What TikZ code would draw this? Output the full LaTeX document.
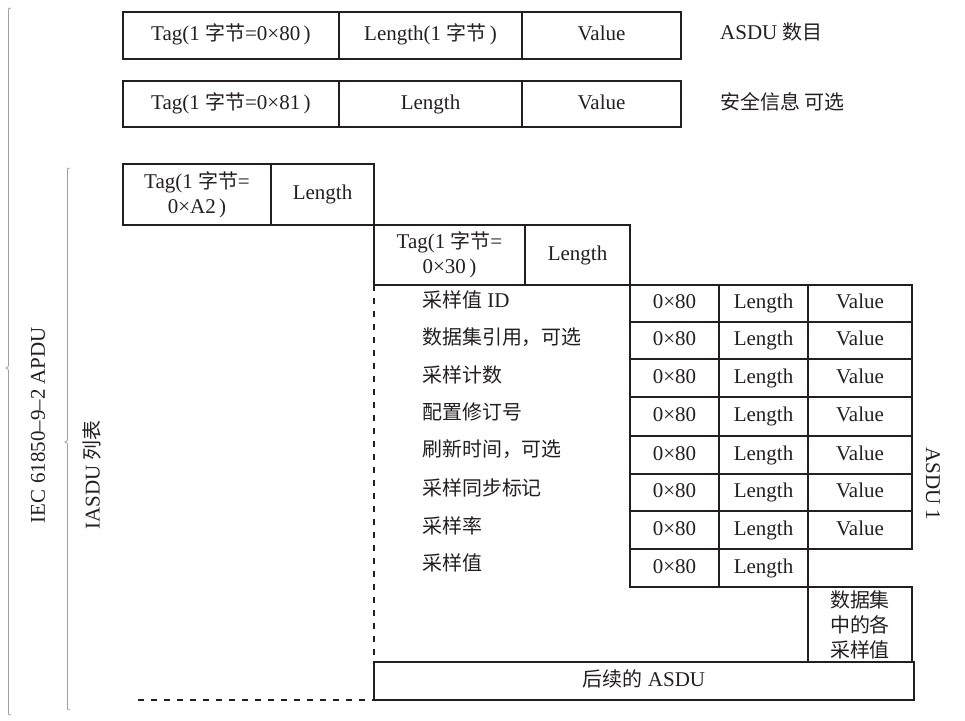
\documentclass[tikz,border=0pt]{standalone}
\usepackage{fontspec}
\setmainfont{Liberation Serif}
\newfontfamily\zhfont{Noto Sans CJK SC}[Scale=0.95]
\newcommand{\zh}[1]{{\zhfont #1}}
\definecolor{ink}{HTML}{231F20}
\definecolor{brc}{HTML}{A0A0A0}
\tikzset{
  cell/.style={draw=ink, line width=1.6pt, inner sep=0pt, outer sep=0pt, anchor=north west, text height=14pt, text depth=4pt, text=ink},
  mcell/.style={draw=ink, line width=1.6pt, inner sep=0pt, outer sep=0pt, anchor=north west, align=center, text=ink},
  lbl/.style={anchor=west, inner sep=0pt, text height=14pt, text depth=4pt, text=ink},
  bracepath/.style={draw=brc, line width=0.8pt},
  dashline/.style={draw=ink, line width=1.6pt, dash pattern=on 6pt off 7pt},
}
\begin{document}
\begin{tikzpicture}[x=1pt, y=-1pt, font=\fontsize{21}{25}\selectfont]
\useasboundingbox (0,0) rectangle (965,720);

% row 1
\node[cell, minimum width=216pt, minimum height=47pt] (t80) at (123,12) {Tag(1 \zh{字节}=0×80\,)};
\node[cell, minimum width=183pt, minimum height=47pt] (l80) at (339,12) {Length(1 \zh{字节}\,)};
\node[cell, minimum width=159pt, minimum height=47pt] (v80) at (522,12) {Value};
\node[lbl] (n80) at (720,34) {ASDU \zh{数目}};

% row 2
\node[cell, minimum width=216pt, minimum height=46pt] (t81) at (123,81) {Tag(1 \zh{字节}=0×81\,)};
\node[cell, minimum width=183pt, minimum height=46pt] (l81) at (339,81) {Length};
\node[cell, minimum width=159pt, minimum height=46pt] (v81) at (522,81) {Value};
\node[lbl] (n81) at (720,104) {\zh{安全信息 可选}};

% row 3
\node[mcell, minimum width=148pt, minimum height=61pt] (ta2) at (123,164) {Tag(1 \zh{字节}=\\0×A2\,)};
\node[cell, minimum width=103pt, minimum height=61pt] (la2) at (271,164) {Length};

% row 4
\node[mcell, minimum width=151pt, minimum height=60pt] (t30) at (374,225) {Tag(1 \zh{字节}=\\0×30\,)};
\node[cell, minimum width=105pt, minimum height=60pt] (l30) at (525,225) {Length};

% table
\foreach \i/\t/\h in {1/285/37,2/322/37,3/359/38,4/397/39,5/436/38,6/474/37,7/511/38}{
  \node[cell, minimum width=89pt, minimum height=\h pt] (h\i) at (630,\t) {0×80};
  \node[cell, minimum width=89pt, minimum height=\h pt] (g\i) at (719,\t) {Length};
  \node[cell, minimum width=104pt, minimum height=\h pt] (v\i) at (808,\t) {Value};
}
\node[cell, minimum width=89pt, minimum height=38pt] (h8) at (630,549) {0×80};
\node[cell, minimum width=89pt, minimum height=38pt] (g8) at (719,549) {Length};
\node[mcell, minimum width=104pt, minimum height=75pt] (ds) at (808,587) {\zh{数据集}\\\zh{中的各}\\\zh{采样值}};
\node[cell, minimum width=540pt, minimum height=38pt] (next) at (374,662) {\zh{后续的} ASDU};

% left labels
\node[lbl] (a1) at (422,302) {\zh{采样值} ID};
\node[lbl] (a2) at (422,339) {\zh{数据集引用，可选}};
\node[lbl] (a3) at (422,377) {\zh{采样计数}};
\node[lbl] (a4) at (422,414) {\zh{配置修订号}};
\node[lbl] (a5) at (422,451) {\zh{刷新时间，可选}};
\node[lbl] (a6) at (422,490) {\zh{采样同步标记}};
\node[lbl] (a7) at (422,528) {\zh{采样率}};
\node[lbl] (a8) at (422,565) {\zh{采样值}};

% dashed lines
\draw[dashline] (t30.south west) -- (next.north west);
\coordinate (dl) at (138,700);
\draw[dashline] (dl) -- (next.south west);

% rotated labels
\node[rotate=90, text=ink] (apdu) at (38,425) {IEC 61850–9–2 APDU};
\node[rotate=90, text=ink] (iasdu) at (92,475) {IASDU \zh{列表}};
\node[rotate=-90, text=ink] (asdu1) at (933,484) {ASDU 1};

% braces
\draw[bracepath] (11,8) .. controls (8.5,8) .. (8.5,12) -- (8.5,363) .. controls (8.5,367) .. (6,368) .. controls (8.5,369) .. (8.5,373) -- (8.5,711) .. controls (8.5,715) .. (11,715);
\draw[bracepath] (70,168) .. controls (67.5,168) .. (67.5,172) -- (67.5,437) .. controls (67.5,441) .. (65,442) .. controls (67.5,443) .. (67.5,447) -- (67.5,706) .. controls (67.5,710) .. (70,710);
\end{tikzpicture}
\end{document}
